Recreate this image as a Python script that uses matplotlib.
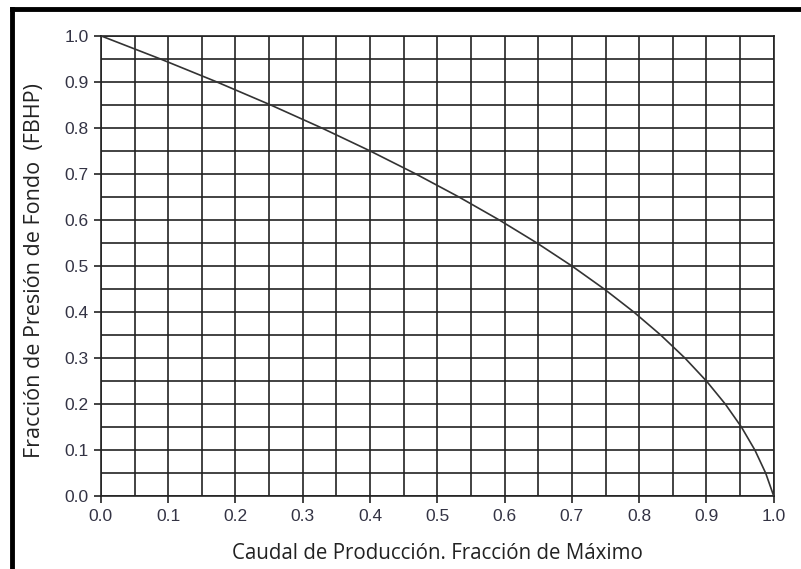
import numpy as np
import matplotlib.pyplot as plt
from matplotlib.lines import Line2D

# Points: (caudal fraction, pressure fraction)
fbhp = [1.00, 0.95, 0.90, 0.85, 0.80, 0.75, 0.70, 0.65, 0.60, 0.55, 0.50,
        0.45, 0.40, 0.35, 0.30, 0.25, 0.20, 0.15, 0.10, 0.05, 0.00]
caudal = [0.000, 0.088, 0.172, 0.252, 0.328, 0.400, 0.468, 0.532, 0.592,
          0.648, 0.700, 0.748, 0.792, 0.832, 0.868, 0.900, 0.928, 0.952,
          0.972, 0.988, 1.000]
ticks = [0.0, 0.1, 0.2, 0.3, 0.4, 0.5, 0.6, 0.7, 0.8, 0.9, 1.0]
grid_step = [i * 0.05 for i in range(21)]

plt.rcParams['font.family'] = ['Liberation Sans', 'DejaVu Sans']

fig = plt.figure(figsize=(8.01, 5.69), dpi=100)
ax = fig.add_axes([0.126, 0.128, 0.840, 0.809])

for g in grid_step:
    ax.axvline(g, color='#222222', lw=1.2, zorder=1)
    ax.axhline(g, color='#222222', lw=1.2, zorder=1)

ax.plot(caudal, fbhp, color='#333333', lw=1.2, zorder=3)

ax.set_xlim(0, 1)
ax.set_ylim(0, 1)
ax.set_xticks(ticks)
ax.set_yticks(ticks)
ax.set_xticklabels(['%.1f' % t for t in ticks])
ax.set_yticklabels(['%.1f' % t for t in ticks])
ax.tick_params(direction='out', length=5, width=1.2, color='#222222',
               labelsize=12.5, labelcolor='#333344', pad=4)
for s in ax.spines.values():
    s.set_linewidth(1.2)
    s.set_color('#222222')

lab_font = dict(family=['Open Sans', 'DejaVu Sans'], color='#222222')
ax.set_xlabel('Caudal de Producción. Fracción de Máximo', fontsize=14.8,
              labelpad=14, **lab_font)
ax.set_ylabel('Fracción de Presión de Fondo  (FBHP)', fontsize=15.5,
              **lab_font)
ax.yaxis.set_label_coords(-0.083, 0.49)

# black frame lines at top and left of the picture
fig.add_artist(Line2D([0.015, 1.0], [0.984, 0.984], color='black', lw=3.5,
                      transform=fig.transFigure))
fig.add_artist(Line2D([0.015, 0.015], [0.0, 0.984], color='black', lw=3.5,
                      transform=fig.transFigure))

fig.savefig('out.png', dpi=100)
